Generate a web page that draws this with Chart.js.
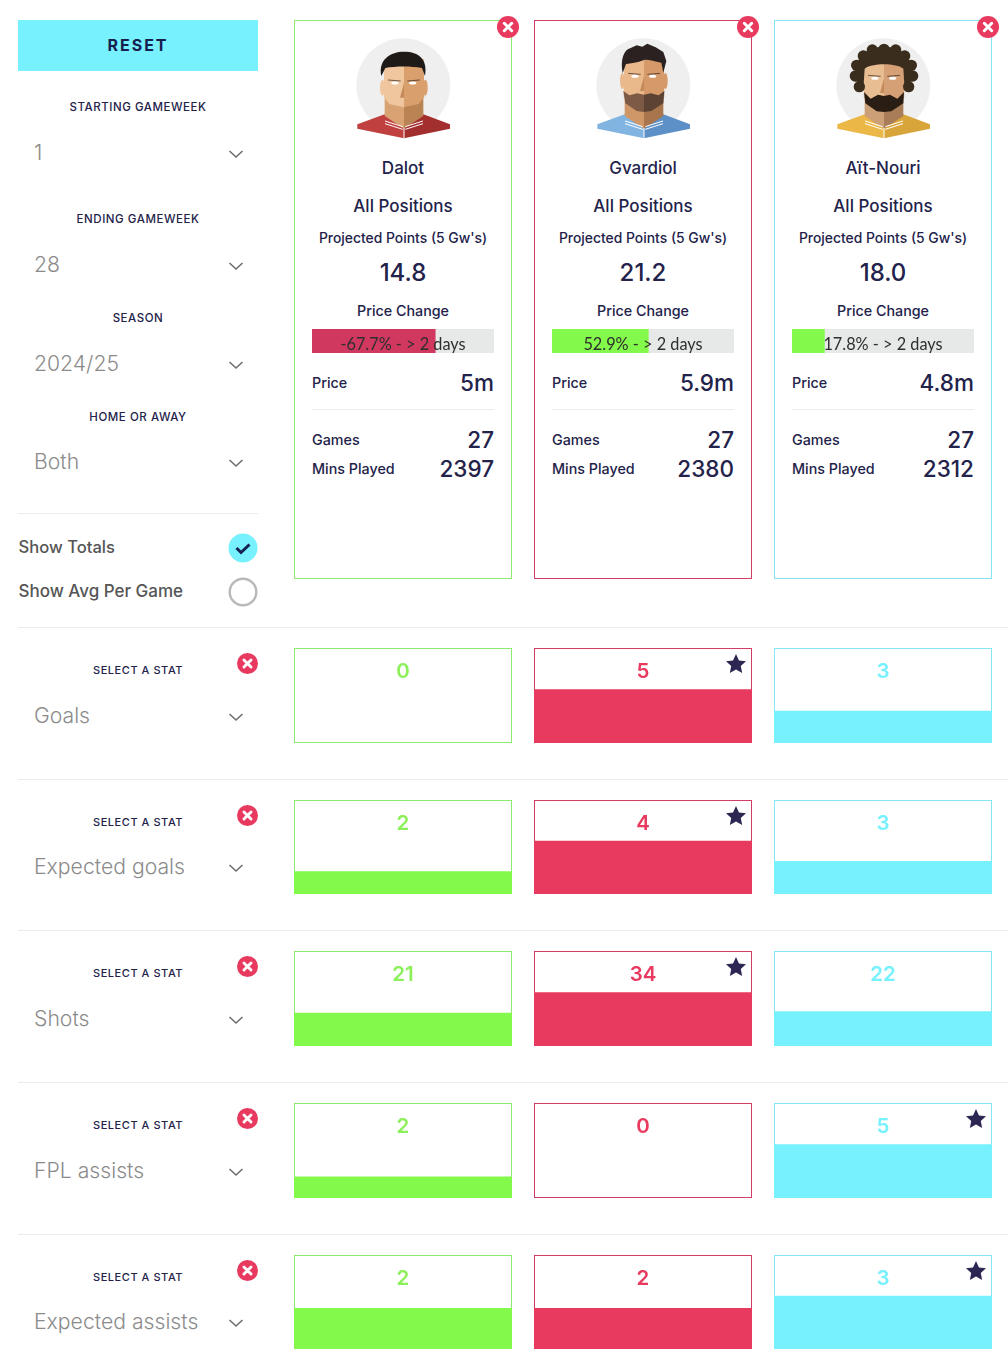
<!DOCTYPE html>
<html>
<head>
<meta charset="utf-8">
<script src="https://cdn.jsdelivr.net/npm/chart.js"></script>
<style>
  html, body { margin: 0; padding: 0; background: #fff; }
  #page { position: relative; width: 1008px; height: 1368px; overflow: hidden; font-family: Inter, sans-serif; color: #23224a; }
  #page > span { position: absolute; white-space: nowrap; line-height: 1; }
  #page > canvas, #page > svg, #page > div { position: absolute; }
</style>
</head>
<body>
<div id="page"></div>
<script>
"use strict";

var players = ['Dalot', 'Gvardiol', 'Aït-Nouri'];
var positions = ['All Positions', 'All Positions', 'All Positions'];
var projectedPoints = [14.8, 21.2, 18.0];
var priceChange = [-67.7, 52.9, 17.8];
var priceChangeTime = ['> 2 days', '> 2 days', '> 2 days'];
var prices = ['5m', '5.9m', '4.8m'];
var games = [27, 27, 27];
var minsPlayed = [2397, 2380, 2312];

var statNames = ['Goals', 'Expected goals', 'Shots', 'FPL assists', 'Expected assists'];
var goals = [0, 5, 3];
var expectedGoals = [1.8, 4.2, 2.6];
var shots = [21, 34, 22];
var fplAssists = [2, 0, 5];
var expectedAssists = [2.0, 2.0, 2.6];

var filterLabels = ['STARTING GAMEWEEK', 'ENDING GAMEWEEK', 'SEASON', 'HOME OR AWAY'];
var filterValues = ['1', '28', '2024/25', 'Both'];

var GREEN = '#83f94b', RED = '#e83a5f', CYAN = '#76f1fd', NAVY = '#23224a';
var playerColors = [GREEN, RED, CYAN];
var cardBorders = ['#8eea6e', '#d23d66', '#84e6f4'];
var priceFill = ['#d1385f', GREEN, GREEN];

var page = document.getElementById('page');

function text(x, y, str, css, align) {
  var el = document.createElement('span');
  var shift = align === 'left' ? '0' : align === 'right' ? '-100%' : '-50%';
  el.textContent = str;
  el.style.cssText = 'left:' + x + 'px;top:' + y + 'px;transform:translate(' + shift + ',-50%);' + css;
  page.appendChild(el);
  return el;
}

function box(x, y, w, h, css) {
  var el = document.createElement('div');
  el.style.cssText = 'left:' + x + 'px;top:' + y + 'px;width:' + w + 'px;height:' + h + 'px;' + css;
  page.appendChild(el);
  return el;
}

function svg(x, y, w, h, viewBox, body) {
  var holder = document.createElement('div');
  holder.style.cssText = 'left:' + x + 'px;top:' + y + 'px;width:' + w + 'px;height:' + h + 'px;';
  holder.innerHTML = '<svg xmlns="http://www.w3.org/2000/svg" width="' + w + '" height="' + h + '" viewBox="' + viewBox + '" style="display:block">' + body + '</svg>';
  page.appendChild(holder);
}

function closeIcon(cx, cy, r) {
  svg(cx - r, cy - r, r * 2, r * 2, '0 0 22 22',
    '<circle cx="11" cy="11" r="11" fill="' + RED + '"/>' +
    '<path d="M7.3 7.3L14.7 14.7M14.7 7.3L7.3 14.7" stroke="#fff" stroke-width="3" stroke-linecap="round"/>');
}

function chevron(cx, cy) {
  svg(cx - 8, cy - 5, 16, 10, '0 0 16 10', '<path d="M1.5 2L8 8L14.5 2" fill="none" stroke="#6f6f6f" stroke-width="1.6"/>');
}

function dropdown(y, value) {
  text(34, y, value, 'font-size:21.2px;font-weight:300;color:#8b8b8b;', 'left');
  chevron(236, Math.round(y) + 1);
}

function curls(points, fill) {
  return points.map(function(p) {
    return '<circle cx="' + p[0] + '" cy="' + p[1] + '" r="17" fill="' + fill + '"/>';
  }).join('');
}

var faces = [
  {
    shirt: ['#c0403f', '#a32e2e'], skin: ['#efc69d', '#d99f6d'], neck: ['#d9a273', '#b98354'], eyeY: 221,
    hair: '<path fill="#1e1a18" d="M272 200C262 150 300 127 340 127C385 127 412 150 403 200L394 176C362 170 315 170 284 176Z"/>',
    beard: ''
  },
  {
    shirt: ['#82b4e2', '#5d90c6'], skin: ['#e9b98c', '#d6996a'], neck: ['#cf9768', '#a8754d'], eyeY: 201,
    hair: '<path fill="#2a2120" d="M276 192C268 150 280 120 300 116L318 108L335 112L350 103L375 114L398 128L407 155L398 190L392 160C370 156 352 150 340 152C320 160 300 162 286 164Z"/>',
    beard: '<path fill="#7c5a45" d="M278 245L296 258L320 252L340 256V308L318 305L284 282Z"/><path fill="#5c4334" d="M401 245L384 258L360 252L340 256V308L362 305L398 282Z"/>'
  },
  {
    shirt: ['#ebb746', '#d8a53b'], skin: ['#e9bd92', '#d5a075'], neck: ['#cc9f77', '#a87d58'], eyeY: 207,
    hair: '<path fill="#3b2d1e" d="M340 112C300 112 265 130 258 170C250 195 255 232 278 240L282 178C300 160 380 160 398 178L402 240C425 232 430 195 422 170C415 130 380 112 340 112Z"/>' +
      curls([[340, 120], [305, 122], [375, 122], [278, 140], [402, 140], [258, 168], [422, 168], [254, 200], [426, 200], [266, 232], [414, 232]], '#3b2d1e'),
    beard: '<path fill="#2a1e14" d="M280 248L300 268L322 256L340 260L358 256L380 268L400 248L398 282L362 306L340 308L318 306L284 282Z"/>'
  }
];

function avatar(index) {
  var f = faces[index];
  svg(353.5 + index * 240, 36.4, 100, 106.67, '190 80 300 320',
    '<circle cx="338" cy="228" r="141" fill="#efefef"/>' +
    '<polygon fill="' + f.shirt[0] + '" points="200,345 282,315 340,355 340,387 200,358"/>' +
    '<polygon fill="' + f.shirt[1] + '" points="478,345 398,315 340,355 340,387 478,358"/>' +
    '<polygon fill="' + f.neck[0] + '" points="282,260 340,260 340,358 282,320"/>' +
    '<polygon fill="' + f.neck[1] + '" points="398,260 340,260 340,358 398,320"/>' +
    '<path d="M283 335L336 352M397 335L344 352M283 343L336 360M397 343L344 360M340 356V387" stroke="#fff" stroke-width="3" fill="none"/>' +
    '<ellipse cx="275" cy="' + (f.eyeY + 14) + '" rx="7" ry="24" fill="' + f.skin[0] + '"/>' +
    '<ellipse cx="404" cy="' + (f.eyeY + 14) + '" rx="7" ry="24" fill="' + f.skin[1] + '"/>' +
    '<polygon fill="' + f.skin[0] + '" points="340,150 281,150 279,262 296,284 340,294"/>' +
    '<polygon fill="' + f.skin[1] + '" points="340,150 399,150 401,262 384,284 340,294"/>' +
    f.beard + f.hair +
    '<polygon fill="#c48a5a" points="340,' + f.eyeY + ' 328,' + (f.eyeY + 44) + ' 340,' + (f.eyeY + 44) + '"/>' +
    '<path d="M292 ' + (f.eyeY - 9) + 'L330 ' + (f.eyeY - 6) + 'M388 ' + (f.eyeY - 9) + 'L350 ' + (f.eyeY - 6) + '" stroke="#2a2120" stroke-width="2"/>' +
    '<ellipse cx="313" cy="' + f.eyeY + '" rx="11" ry="4.5" fill="#fff"/>' +
    '<ellipse cx="366" cy="' + f.eyeY + '" rx="11" ry="4.5" fill="#fff"/>');
}

function formatChange(value, time) {
  return value + '% - ' + time.replace('>', '> ').replace('>  ', '> ');
}

// sidebar
box(18, 20, 240, 51, 'background:' + CYAN + ';');
text(138, 45, 'RESET', 'font-size:16px;font-weight:700;letter-spacing:2px;color:#16204f;');
var filterY = [108, 220, 319, 418];
var filterValueY = [153, 265, 364, 462];
filterLabels.forEach(function(label, i) {
  text(138, filterY[i], label, 'font-size:11.5px;font-weight:500;letter-spacing:.55px;');
  dropdown(filterValueY[i], filterValues[i]);
});
box(18, 513, 240, 1, 'background:#ececec;');
text(18.5, 547, 'Show Totals', 'font-size:16.6px;font-weight:500;color:#555;', 'left');
text(18.5, 591, 'Show Avg Per Game', 'font-size:17px;font-weight:500;color:#555;', 'left');
svg(228, 533, 30, 30, '0 0 30 30', '<circle cx="15" cy="15" r="14.5" fill="' + CYAN + '"/><path d="M8.5 15L13 19.5L21.5 11.5" fill="none" stroke="#16204f" stroke-width="3"/>');
svg(228, 577, 30, 30, '0 0 30 30', '<circle cx="15" cy="15" r="13.3" fill="#fff" stroke="#b9b9b9" stroke-width="2.4"/>');

// player cards
players.forEach(function(name, i) {
  var left = 294 + i * 240, mid = left + 109, inL = left + 18, inR = left + 200;
  box(left, 20, 216, 557, 'border:1px solid ' + cardBorders[i] + ';');
  avatar(i);
  closeIcon(left + 214, 27.3, 11);
  text(mid, 167.5, name, 'font-size:17px;font-weight:500;');
  text(mid, 205.5, positions[i], 'font-size:17px;font-weight:500;');
  text(mid, 238.5, 'Projected Points (5 Gw\'s)', 'font-size:13.9px;font-weight:500;');
  text(mid, 273, projectedPoints[i].toFixed(1), 'font-size:24px;font-weight:500;');
  text(mid, 310.5, 'Price Change', 'font-size:14.3px;font-weight:500;');
  text(inL, 382.5, 'Price', 'font-size:14.3px;font-weight:500;', 'left');
  text(inR, 382.5, prices[i], 'font-size:22.5px;font-weight:500;', 'right');
  box(inL, 409, 182, 1, 'background:#ececec;');
  text(inL, 439.5, 'Games', 'font-size:14.3px;font-weight:500;', 'left');
  text(inR, 439.5, String(games[i]), 'font-size:22.5px;font-weight:500;', 'right');
  text(inL, 468.5, 'Mins Played', 'font-size:14.3px;font-weight:500;', 'left');
  text(inR, 468.5, String(minsPlayed[i]), 'font-size:22.5px;font-weight:500;', 'right');
});

function makeCanvas(x, y, w, h) {
  var canvas = document.createElement('canvas');
  canvas.width = w;
  canvas.height = h;
  canvas.style.cssText = 'left:' + x + 'px;top:' + y + 'px;width:' + w + 'px;height:' + h + 'px;';
  page.appendChild(canvas);
  return canvas;
}

function baseOptions(extra) {
  return Object.assign({
    responsive: false,
    animation: false,
    layout: { padding: 0 },
    plugins: { legend: { display: false }, tooltip: { enabled: false } }
  }, extra);
}

// price change bars
var priceLabelPlugin = {
  id: 'priceLabel',
  afterDraw: function(chart) {
    var ctx = chart.ctx;
    ctx.save();
    ctx.font = '16.3px Lato, sans-serif';
    ctx.fillStyle = '#2e2e2e';
    ctx.textAlign = 'center';
    ctx.textBaseline = 'middle';
    ctx.fillText(chart.$label, chart.width / 2, chart.height / 2 + 4);
    ctx.restore();
  }
};

priceChange.forEach(function(value, i) {
  new Chart(makeCanvas(312 + i * 240, 329, 182, 24), {
    type: 'bar',
    data: {
      labels: [players[i]],
      datasets: [
        { data: [Math.abs(value)], backgroundColor: priceFill[i], grouped: false, barPercentage: 1, categoryPercentage: 1 },
        { data: [100], backgroundColor: '#e7e8e8', grouped: false, barPercentage: 1, categoryPercentage: 1 }
      ]
    },
    options: baseOptions({
      indexAxis: 'y',
      scales: { x: { display: false, min: 0, max: 100 }, y: { display: false } }
    }),
    plugins: [{
      id: 'priceLabelText',
      beforeDraw: function(c) { c.$label = formatChange(value, priceChangeTime[i]); }
    }, priceLabelPlugin]
  });
});

// stat rows
var statSeries = [goals, expectedGoals, shots, fplAssists, expectedAssists];
var rowBoxes = [[648, 95], [800, 94], [951, 95], [1103, 95], [1255, 94]];
var rowLines = [627, 779, 930, 1082, 1234];
var selectLabelY = [670, 822, 973, 1125, 1277];
var selectValueY = [715.5, 866.5, 1018.5, 1170.5, 1321.5];
var closeY = [663.7, 815.7, 966.7, 1118.7, 1270.7];
var barShare = 0.567;

var statLabelPlugin = {
  id: 'statLabels',
  afterDatasetsDraw: function(chart) {
    var ctx = chart.ctx;
    var meta = chart.getDatasetMeta(0);
    var values = chart.data.datasets[0].data;
    var best = Math.max.apply(null, values);
    ctx.save();
    ctx.textAlign = 'center';
    ctx.textBaseline = 'middle';
    meta.data.forEach(function(bar, i) {
      ctx.font = '600 20.5px Inter, sans-serif';
      ctx.fillStyle = playerColors[i] === GREEN ? '#8cf05a' : playerColors[i];
      ctx.fillText(String(Math.round(values[i])), bar.x, 24);
      if (values[i] === best) drawStar(ctx, bar.x + 93, 16.5, 10.5);
    });
    ctx.restore();
  }
};

function drawStar(ctx, cx, cy, r) {
  ctx.beginPath();
  for (var n = 0; n < 10; n++) {
    var radius = n % 2 ? r * 0.48 : r;
    var angle = -Math.PI / 2 + n * Math.PI / 5;
    ctx.lineTo(cx + Math.cos(angle) * radius, cy + Math.sin(angle) * radius);
  }
  ctx.closePath();
  ctx.fillStyle = '#2c2752';
  ctx.fill();
}

statSeries.forEach(function(values, r) {
  var top = rowBoxes[r][0], height = rowBoxes[r][1];
  var scaleMax = Math.max.apply(null, values) / barShare;
  box(18, rowLines[r], 990, 1, 'background:#ececec;');
  text(138, selectLabelY[r], 'SELECT A STAT', 'font-size:11px;font-weight:500;letter-spacing:.55px;');
  closeIcon(247.6, closeY[r], 10.5);
  dropdown(selectValueY[r], statNames[r]);
  new Chart(makeCanvas(283, top, 720, height), {
    type: 'bar',
    data: {
      labels: players,
      datasets: [
        { data: values, backgroundColor: playerColors, grouped: false, barPercentage: 218 / 240, categoryPercentage: 1 },
        {
          data: players.map(function() { return scaleMax; }),
          backgroundColor: '#fff',
          borderColor: cardBorders,
          borderWidth: 1,
          borderSkipped: false,
          grouped: false,
          barPercentage: 218 / 240,
          categoryPercentage: 1
        }
      ]
    },
    options: baseOptions({
      scales: { x: { display: false }, y: { display: false, min: 0, max: scaleMax } }
    }),
    plugins: [statLabelPlugin]
  });
});
</script>
</body>
</html>
